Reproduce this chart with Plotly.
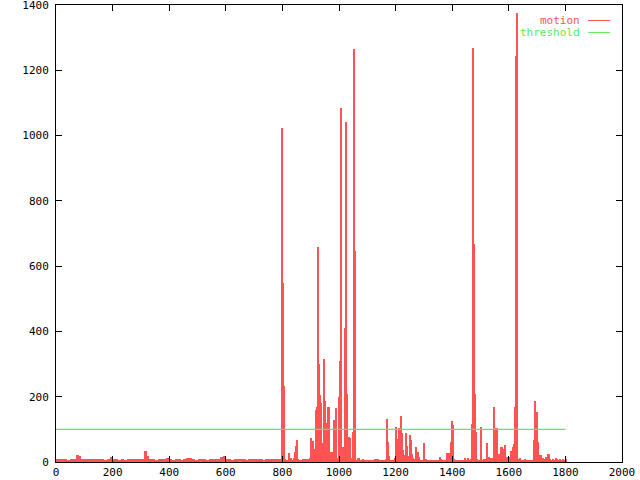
import plotly.graph_objects as go

# ---- data ----
frames = [
    0, 10, 20, 30, 40, 50, 60, 70, 80, 90, 100, 110, 120, 130, 140, 150, 160, 170, 180, 190,
    200, 210, 220, 230, 240, 250, 260, 270, 280, 290, 300, 310, 320, 330, 340, 350, 360, 370, 380, 390,
    400, 410, 420, 430, 440, 450, 460, 470, 480, 490, 500, 510, 520, 530, 540, 550, 560, 570, 580, 590,
    600, 610, 620, 630, 640, 650, 660, 670, 680, 690, 700, 710, 720, 730, 740, 750, 760, 770, 780, 790,
    796, 800, 803, 806, 810, 815, 821, 825, 829, 834, 838, 842, 845, 849, 852, 860, 870, 880, 890, 895,
    901, 904, 907, 910, 914, 918, 921, 923, 927, 930, 934, 937, 941, 944, 948, 952, 955, 959, 962, 965,
    968, 972, 975, 979, 982, 986, 989, 992, 995, 998, 1000, 1004, 1007, 1011, 1014, 1018, 1022, 1026, 1030, 1033,
    1037, 1041, 1046, 1050, 1053, 1056, 1060, 1067, 1074, 1081, 1090, 1100, 1110, 1120, 1125, 1131, 1140, 1150, 1160, 1165,
    1168, 1171, 1175, 1180, 1190, 1196, 1199, 1203, 1206, 1210, 1214, 1217, 1220, 1224, 1227, 1231, 1235, 1238, 1242, 1245,
    1249, 1252, 1256, 1259, 1263, 1267, 1270, 1274, 1277, 1281, 1285, 1290, 1298, 1302, 1310, 1320, 1330, 1340, 1348, 1354,
    1358, 1365, 1372, 1379, 1383, 1387, 1391, 1394, 1398, 1401, 1405, 1410, 1420, 1430, 1437, 1444, 1450, 1454, 1460, 1464,
    1467, 1471, 1474, 1478, 1481, 1485, 1490, 1495, 1500, 1504, 1510, 1515, 1520, 1524, 1528, 1531, 1535, 1538, 1541, 1545,
    1549, 1552, 1556, 1559, 1563, 1566, 1570, 1573, 1577, 1580, 1584, 1587, 1591, 1595, 1600, 1605, 1609, 1612, 1616, 1620,
    1623, 1627, 1630, 1634, 1637, 1641, 1645, 1650, 1655, 1660, 1665, 1670, 1675, 1680, 1684, 1688, 1691, 1695, 1698, 1701,
    1705, 1709, 1713, 1716, 1720, 1723, 1727, 1730, 1734, 1737, 1741, 1745, 1750, 1755, 1760, 1765, 1770, 1775, 1780, 1785,
    1790, 1795, 1800,
]
motion = [
    8, 9, 8, 8, 7, 8, 9, 21, 18, 9, 8, 8, 9, 8, 8, 9, 8, 7, 8, 16,
    9, 8, 7, 9, 7, 8, 9, 8, 10, 8, 9, 34, 18, 8, 9, 7, 8, 8, 9, 12,
    8, 7, 8, 9, 7, 8, 12, 11, 8, 7, 8, 8, 9, 7, 8, 8, 9, 8, 14, 18,
    9, 8, 7, 8, 9, 8, 8, 7, 9, 8, 8, 9, 8, 7, 9, 8, 8, 9, 8, 9,
    1023, 548, 233, 8, 5, 6, 28, 6, 12, 7, 12, 30, 50, 67, 8, 7, 8, 9, 8, 12,
    74, 35, 64, 40, 36, 160, 170, 660, 300, 205, 180, 58, 25, 315, 187, 46, 119, 168, 168, 30,
    12, 30, 30, 30, 129, 165, 65, 12, 12, 200, 309, 741, 1084, 12, 47, 411, 1041, 208, 12, 78,
    73, 12, 93, 1265, 646, 8, 7, 12, 6, 10, 7, 6, 7, 6, 10, 10, 6, 7, 6, 8,
    132, 61, 18, 6, 7, 12, 107, 70, 70, 104, 95, 141, 90, 37, 21, 10, 90, 49, 18, 8,
    83, 67, 24, 11, 7, 10, 46, 8, 31, 15, 7, 6, 59, 10, 6, 7, 6, 7, 6, 15,
    10, 6, 7, 28, 7, 28, 8, 61, 126, 113, 10, 6, 7, 6, 7, 12, 6, 12, 7, 8,
    116, 1268, 668, 208, 93, 8, 6, 7, 108, 6, 8, 10, 57, 12, 15, 12, 10, 12, 8, 167,
    31, 105, 105, 25, 22, 25, 47, 47, 20, 40, 52, 12, 15, 8, 15, 35, 21, 45, 55, 168,
    1244, 1374, 10, 5, 12, 5, 4, 5, 10, 5, 4, 5, 4, 5, 6, 67, 187, 153, 153, 60,
    8, 21, 21, 8, 12, 10, 8, 15, 8, 24, 24, 8, 7, 8, 7, 12, 8, 7, 8, 7,
    8, 7, 8,
]
threshold_x = [0, 1800]
threshold_y = [100, 100]

x_ticks = [0, 200, 400, 600, 800, 1000, 1200, 1400, 1600, 1800, 2000]
y_ticks = [0, 200, 400, 600, 800, 1000, 1200, 1400]

RED = "#ff5252"
GREEN = "#55ee55"
FONT = "DejaVu Sans Mono"

# each impulse spans until the next sample (at least ~1 pixel wide)
widths = [max(frames[i + 1] - frames[i], 3.6) for i in range(len(frames) - 1)] + [4]

fig = go.Figure()
fig.add_trace(go.Bar(
    x=frames, y=motion, width=widths, offset=0,
    marker=dict(color=RED, line=dict(width=0)),
    name="motion", showlegend=False,
))
fig.add_trace(go.Scatter(
    x=threshold_x, y=threshold_y, mode="lines",
    line=dict(color=GREEN, width=1.2),
    name="threshold", showlegend=False,
))

axis_common = dict(
    showgrid=False, zeroline=False, showline=True, linecolor="black", linewidth=1,
    mirror="ticks", ticks="inside", ticklen=6, tickcolor="black", tickwidth=1,
    tickfont=dict(family=FONT, size=11, color="black"), automargin=False,
    ticklabeloverflow="allow",
)
fig.update_xaxes(range=[0, 2000], tickvals=x_ticks, ticktext=[str(v) for v in x_ticks],
                 ticklabelstandoff=0, **axis_common)
fig.update_yaxes(range=[0, 1400], tickvals=y_ticks, ticktext=[str(v) for v in y_ticks],
                 ticklabelstandoff=4, **axis_common)

# gnuplot-style key: text right-aligned, line sample to the right
legend_items = [("motion", RED, 0.966), ("threshold", GREEN, 0.940)]
for label, color, ypos in legend_items:
    fig.add_annotation(xref="paper", yref="paper", x=0.927, y=ypos, text=label,
                       showarrow=False, xanchor="right", yanchor="middle",
                       font=dict(family=FONT, size=11, color=color), borderpad=0)
    fig.add_shape(type="line", xref="paper", yref="paper", x0=0.940, x1=0.979,
                  y0=ypos, y1=ypos, line=dict(color=color, width=1))

fig.update_layout(
    width=640, height=480, autosize=False,
    margin=dict(l=56, r=18, t=5, b=18),
    plot_bgcolor="white", paper_bgcolor="white",
    bargap=0, barmode="overlay",
)

fig.write_html("out.html", config={"displayModeBar": False},
               post_script="document.body.style.margin='0';")
